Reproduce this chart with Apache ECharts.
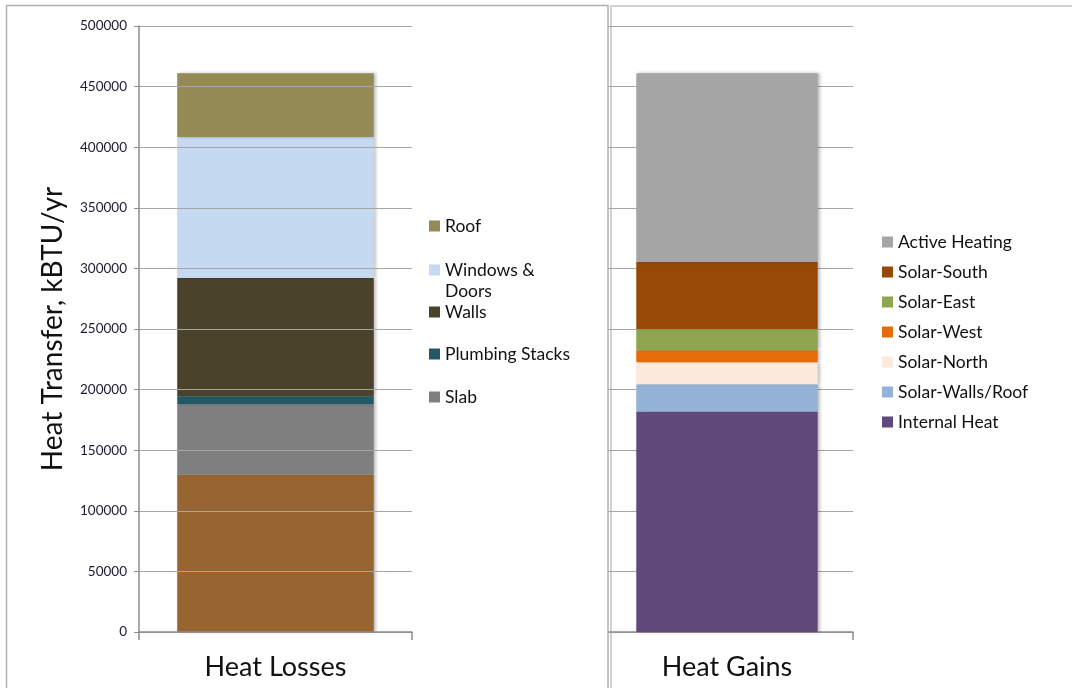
<!DOCTYPE html>
<html>
<head>
<meta charset="utf-8">
<script src="https://cdn.jsdelivr.net/npm/echarts@6/dist/echarts.min.js"></script>
<style>
html,body{margin:0;padding:0;background:#fff;}
#chart{width:1072px;height:688px;}
</style>
</head>
<body>
<div id="chart"></div>
<script>
// ---- data ----
const lossCategories = ['Heat Losses'];
const gainCategories = ['Heat Gains'];
const yTicks = [0, 50000, 100000, 150000, 200000, 250000, 300000, 350000, 400000, 450000, 500000];

// Heat losses, bottom to top
const lossNames = ['Infiltration', 'Slab', 'Plumbing Stacks', 'Walls', 'Windows & Doors', 'Roof'];
const lossValues = [130000, 58000, 6500, 97500, 116500, 52500];
const lossColors = ['#986431', '#7F7F7F', '#215A66', '#4A422A', '#C5D9F1', '#948A54'];

// Heat gains, bottom to top
const gainNames = ['Internal Heat', 'Solar-Walls/Roof', 'Solar-North', 'Solar-West', 'Solar-East', 'Solar-South', 'Active Heating'];
const gainValues = [182000, 22500, 18000, 10000, 17500, 55500, 155500];
const gainColors = ['#604A7B', '#95B3D7', '#FDE9D9', '#E46C0A', '#8DA64F', '#984807', '#A5A5A5'];

// legend entries (top to bottom)
const lossLegend = ['Roof', 'Windows & Doors', 'Walls', 'Plumbing Stacks', 'Slab'];
const gainLegend = ['Active Heating', 'Solar-South', 'Solar-East', 'Solar-West', 'Solar-North', 'Solar-Walls/Roof', 'Internal Heat'];

// ---- chart ----
const FONT = 'Lato';
const chart = echarts.init(document.getElementById('chart'), null, {renderer: 'canvas'});

const shadow = {shadowColor: 'rgba(0,0,0,0.25)', shadowBlur: 3, shadowOffsetX: 2, shadowOffsetY: 0};

const series = [];
lossNames.forEach((n, i) => {
  series.push({
    name: n, type: 'bar', stack: 'loss', xAxisIndex: 0, yAxisIndex: 0,
    barWidth: '72%', data: [lossValues[i]],
    itemStyle: Object.assign({color: lossColors[i]}, shadow),
    emphasis: {disabled: true}, z: 3
  });
});
gainNames.forEach((n, i) => {
  series.push({
    name: n, type: 'bar', stack: 'gain', xAxisIndex: 1, yAxisIndex: 1,
    barWidth: '72%', data: [gainValues[i]],
    itemStyle: Object.assign({color: gainColors[i]}, shadow),
    emphasis: {disabled: true}, z: 3
  });
});

// left legend: one component per item to mimic the wrapped layout
const lossLegendCenters = [226, 270, 312, 354, 397];
const legendText = {fontFamily: FONT, fontSize: 17.5, color: '#111', lineHeight: 21};
const legends = lossLegend.map((n, i) => {
  const wrap = n === 'Windows & Doors';
  return {
    data: [n], orient: 'vertical', left: 429,
    top: wrap ? lossLegendCenters[i] - 31.5 : lossLegendCenters[i] - 10.5,
    padding: 0, itemWidth: 11, itemHeight: 11, icon: 'rect',
    selectedMode: false,
    formatter: wrap ? ' \nWindows &\nDoors' : '{name}',
    textStyle: legendText
  };
});
legends.push({
  data: gainLegend, orient: 'vertical', left: 882, top: 242 - 10.5,
  padding: 0, itemGap: 9, itemWidth: 11, itemHeight: 11, icon: 'rect',
  selectedMode: false,
  textStyle: legendText
});

const yCommon = {
  type: 'value', min: yTicks[0], max: yTicks[yTicks.length - 1], interval: yTicks[1] - yTicks[0]
};

chart.setOption({
  animation: false,
  backgroundColor: '#fff',
  grid: [
    {left: 139, top: 26, width: 273, height: 606},
    {left: 601, top: 26, width: 252, height: 606}
  ],
  xAxis: [
    {
      type: 'category', gridIndex: 0, data: lossCategories, z: 5,
      axisLine: {lineStyle: {color: '#8C8C8C', width: 1.5}},
      axisTick: {show: true, length: 8, lineStyle: {color: '#8C8C8C', width: 1.5}},
      axisLabel: {fontFamily: FONT, fontSize: 27, color: '#111', margin: 22}
    },
    {
      type: 'category', gridIndex: 1, data: gainCategories, z: 0,
      axisLine: {lineStyle: {color: '#8C8C8C', width: 1.5}},
      axisTick: {show: true, length: 8, lineStyle: {color: '#8C8C8C', width: 1.5}},
      axisLabel: {fontFamily: FONT, fontSize: 27, color: '#111', margin: 22}
    }
  ],
  yAxis: [
    Object.assign({}, yCommon, {
      gridIndex: 0, z: 5,
      name: 'Heat Transfer, kBTU/yr', nameLocation: 'middle', nameGap: 72, nameRotate: 90,
      nameTextStyle: {fontFamily: FONT, fontSize: 28, color: '#111'},
      axisLine: {show: true, lineStyle: {color: '#8C8C8C', width: 1.5}},
      axisTick: {show: true, length: 5, lineStyle: {color: '#8C8C8C'}},
      axisLabel: {fontFamily: FONT, fontSize: 13.5, color: '#1a1a33', margin: 12,
        formatter: v => String(v)},
      splitLine: {show: true, lineStyle: {color: '#A6A6A6', width: 1.2}}
    }),
    Object.assign({}, yCommon, {
      gridIndex: 1, z: 0,
      axisLine: {show: true, lineStyle: {color: '#8C8C8C', width: 1.5}},
      axisTick: {show: false},
      axisLabel: {show: false},
      splitLine: {show: true, lineStyle: {color: '#A6A6A6', width: 1.2}}
    })
  ],
  legend: legends,
  graphic: [
    {
      type: 'rect', z: 0, silent: true,
      shape: {x: 611, y: 6, width: 480, height: 700},
      style: {fill: 'none', stroke: '#C4C4C4', lineWidth: 1.5}
    },
    {
      type: 'rect', z: 1, silent: true,
      shape: {x: 6.5, y: 5.5, width: 601.5, height: 700},
      style: {fill: '#fff', stroke: '#B0B0B0', lineWidth: 1.5}
    }
  ],
  series: series
});
</script>
</body>
</html>
